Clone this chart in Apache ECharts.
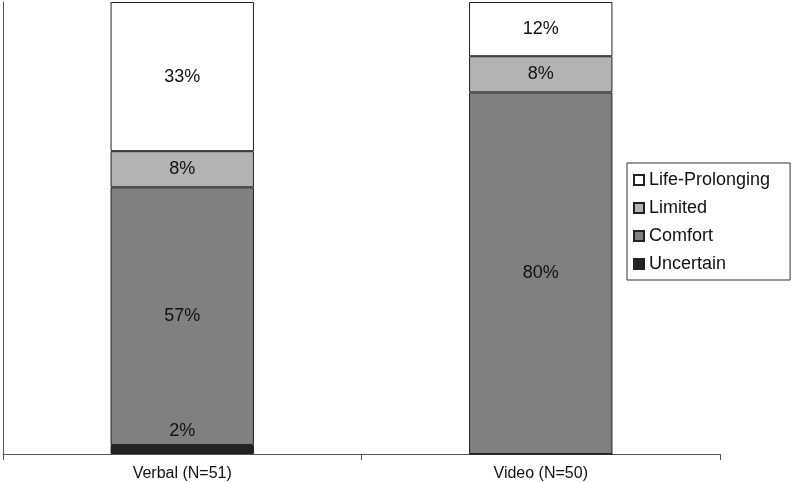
<!DOCTYPE html>
<html>
<head>
<meta charset="utf-8">
<script src="https://cdn.jsdelivr.net/npm/echarts@6/dist/echarts.min.js"></script>
<style>
  html, body { margin: 0; padding: 0; background: #fff; }
  #chart { width: 793px; height: 483px; }
</style>
</head>
<body>
<div id="chart"></div>
<script>
// groups and shares (%)
const groups = ['Verbal (N=51)', 'Video (N=50)'];
const uncertain = [2, 0];
const comfort = [57, 80];
const limited = [8, 8];
const lifeProlonging = [33, 12];

const chart = echarts.init(document.getElementById('chart'));

function seg(name, data, color, labelPos) {
  return {
    name: name,
    type: 'bar',
    stack: 'all',
    barWidth: '40%',
    data: data,
    itemStyle: { color: color, borderColor: '#222', borderWidth: 1 },
    label: {
      show: true,
      position: labelPos || 'inside',
      color: '#111',
      fontSize: 18,
      fontFamily: 'Liberation Sans, Arial, sans-serif',
      formatter: p => p.value > 0 ? p.value + '%' : ''
    }
  };
}

chart.setOption({
  animation: false,
  textStyle: { fontFamily: 'Liberation Sans, Arial, sans-serif' },
  grid: { left: 3, right: 73, top: 2, bottom: 29 },
  legend: {
    orient: 'vertical',
    left: 627,
    top: 163,
    data: ['Life-Prolonging', 'Limited', 'Comfort', 'Uncertain'],
    icon: 'rect',
    itemWidth: 10,
    itemHeight: 10,
    itemGap: 10,
    padding: [8, 20, 7, 6],
    borderColor: '#333',
    borderWidth: 1,
    textStyle: { fontSize: 18, color: '#111' }
  },
  xAxis: {
    type: 'category',
    data: groups,
    axisLine: { lineStyle: { color: '#555', width: 1 } },
    axisTick: { show: true, alignWithLabel: false, length: 6, lineStyle: { color: '#555' } },
    axisLabel: { fontSize: 16, color: '#111', margin: 12 }
  },
  yAxis: {
    type: 'value',
    min: 0,
    max: 100,
    axisLine: { show: true, lineStyle: { color: '#555', width: 1 } },
    axisTick: { show: false },
    axisLabel: { show: false },
    splitLine: { show: false }
  },
  series: [
    seg('Uncertain', uncertain, '#222222', 'top'),
    seg('Comfort', comfort, '#808080'),
    seg('Limited', limited, '#b3b3b3'),
    seg('Life-Prolonging', lifeProlonging, '#ffffff')
  ]
});
</script>
</body>
</html>
